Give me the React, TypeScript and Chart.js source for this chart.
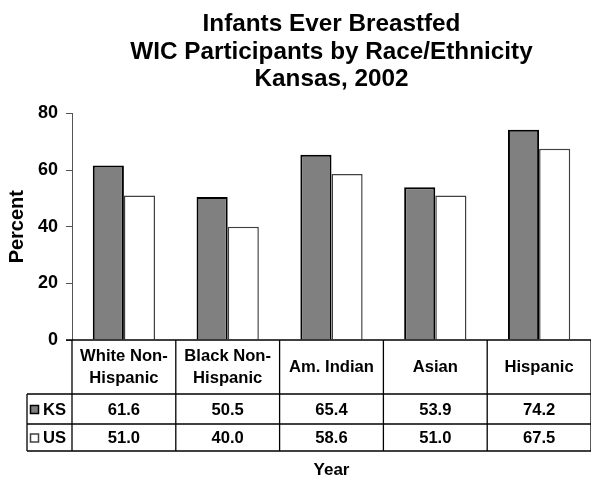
import React, { useEffect, useRef } from "react";
import { Chart, registerables } from "chart.js";

Chart.register(...registerables);

const categories: string[][] = [
  ["White Non-", "Hispanic"],
  ["Black Non-", "Hispanic"],
  ["Am. Indian"],
  ["Asian"],
  ["Hispanic"],
];
const seriesNames = ["KS", "US"];
const ksValues = [61.6, 50.5, 65.4, 53.9, 74.2];
const usValues = [51.0, 40.0, 58.6, 51.0, 67.5];
const titleLines = [
  "Infants Ever Breastfed",
  "WIC Participants by Race/Ethnicity",
  "Kansas, 2002",
];
const yAxisTitle = "Percent";
const xAxisTitle = "Year";

const FONT = "'Liberation Sans', Arial, Helvetica, sans-serif";
const seriesFill = ["#808080", "#ffffff"];
const seriesStroke = ["#000000", "#404040"];

const tablePlugin = {
  id: "dataTable",
  afterDraw(chart: any) {
    const { ctx, chartArea } = chart;
    const xs = chart.scales.x;
    const left = chartArea.left;
    const right = chartArea.right;
    const top = chartArea.bottom;
    const headerBottom = top + 54;
    const row1Bottom = headerBottom + 30;
    const row2Bottom = row1Bottom + 27;
    const legendLeft = 27;
    const n = categories.length;
    const half = (xs.getPixelForValue(1) - xs.getPixelForValue(0)) / 2;

    const line = (x1: number, y1: number, x2: number, y2: number) => {
      ctx.beginPath();
      ctx.moveTo(x1, y1);
      ctx.lineTo(x2, y2);
      ctx.stroke();
    };

    ctx.save();
    ctx.strokeStyle = "#000";
    ctx.lineWidth = 1.3;
    line(left - 6, top, right, top);
    line(legendLeft, headerBottom, right, headerBottom);
    line(legendLeft, row1Bottom, right, row1Bottom);
    line(legendLeft, row2Bottom, right, row2Bottom);
    line(legendLeft, headerBottom, legendLeft, row2Bottom);
    for (let i = 0; i <= n; i++) {
      const bx = i < n ? xs.getPixelForValue(i) - half : xs.getPixelForValue(n - 1) + half;
      line(bx, top, bx, row2Bottom);
    }

    ctx.fillStyle = "#000";
    ctx.font = `bold 16.6px ${FONT}`;
    ctx.textAlign = "center";
    ctx.textBaseline = "middle";
    categories.forEach((lines, i) => {
      const cx = xs.getPixelForValue(i);
      const cy = (top + headerBottom) / 2;
      const lh = 22;
      lines.forEach((t, j) => {
        ctx.fillText(t, cx, cy + (j - (lines.length - 1) / 2) * lh);
      });
    });

    const rows = [ksValues, usValues];
    const rowCenters = [(headerBottom + row1Bottom) / 2 + 1, (row1Bottom + row2Bottom) / 2 + 1];
    rows.forEach((vals, r) => {
      const cy = rowCenters[r];
      vals.forEach((v, i) => {
        ctx.textAlign = "center";
        ctx.fillText(v.toFixed(1), xs.getPixelForValue(i), cy);
      });
      ctx.fillStyle = seriesFill[r];
      ctx.fillRect(30.5, cy - 4.5, 8, 8);
      ctx.strokeStyle = seriesStroke[r];
      ctx.lineWidth = 1.5;
      ctx.strokeRect(30.5, cy - 4.5, 8, 8);
      ctx.fillStyle = "#000";
      ctx.textAlign = "left";
      ctx.fillText(seriesNames[r], 43, cy);
    });

    ctx.textAlign = "center";
    ctx.font = `bold 17px ${FONT}`;
    ctx.fillText(xAxisTitle, (left + right) / 2, row2Bottom + 19);
    ctx.restore();
  },
};

export default function App() {
  const ref = useRef<HTMLCanvasElement | null>(null);
  useEffect(() => {
    if (!ref.current) return;
    const chart = new Chart(ref.current, {
      type: "bar",
      data: {
        labels: categories,
        datasets: [
          {
            label: seriesNames[0],
            data: ksValues,
            backgroundColor: seriesFill[0],
            borderColor: seriesStroke[0],
            borderWidth: 2,
            barPercentage: 1,
            categoryPercentage: 0.6,
          },
          {
            label: seriesNames[1],
            data: usValues,
            backgroundColor: seriesFill[1],
            borderColor: seriesStroke[1],
            borderWidth: 1.5,
            barPercentage: 1,
            categoryPercentage: 0.6,
          },
        ],
      },
      options: {
        animation: false,
        responsive: true,
        maintainAspectRatio: false,
        layout: { padding: { left: 0, right: 0, top: 0, bottom: 138 } },
        plugins: {
          legend: { display: false },
          tooltip: { enabled: false },
          title: {
            display: true,
            text: titleLines,
            fullSize: false,
            color: "#000",
            font: { family: FONT, size: 24.3, weight: "bold", lineHeight: 1.13 },
            padding: { top: 11, bottom: 20 },
          },
        },
        scales: {
          x: { display: false },
          y: {
            min: 0,
            max: 80,
            ticks: {
              stepSize: 20,
              color: "#000",
              padding: 8,
              font: { family: FONT, size: 18, weight: "bold" },
            },
            grid: {
              display: true,
              drawOnChartArea: false,
              drawTicks: true,
              tickLength: 6,
              color: "#555",
            },
            border: { display: true, color: "#555", width: 1 },
            title: {
              display: true,
              text: yAxisTitle,
              color: "#000",
              font: { family: FONT, size: 20, weight: "bold" },
              padding: { top: 5, bottom: 0 },
            },
            afterFit: (scale: any) => {
              scale.width = 72;
            },
          },
        },
      },
      plugins: [tablePlugin],
    });
    return () => chart.destroy();
  }, []);
  return (
    <div style={{ position: "fixed", left: 0, top: 0, width: 591, height: 478, background: "#fff" }}>
      <canvas ref={ref} />
    </div>
  );
}
